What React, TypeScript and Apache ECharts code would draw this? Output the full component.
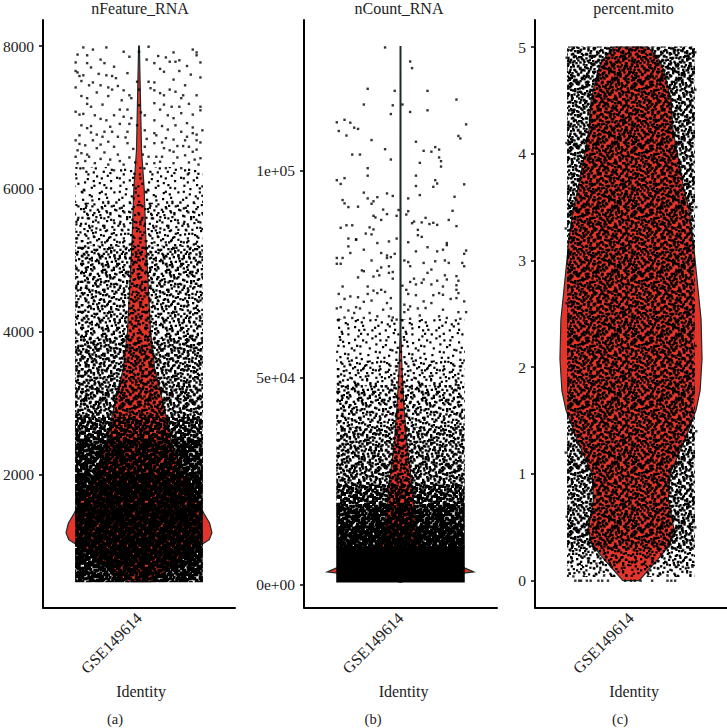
import React, { useEffect, useRef } from "react";
import * as echarts from "echarts";

const FONT = "Liberation Serif";
const categories = ["GSE149614"];
const panelTitles = ["nFeature_RNA", "nCount_RNA", "percent.mito"];
const captions = ["(a)", "(b)", "(c)"];

// Violin profiles: [value, half width as % of the panel width]
const violinA = [[8000,0.2],[6545,1.3],[6000,2.7],[5287,3.6],[4448,5.2],[4000,6],[3469,8.3],[3049,12.2],[2490,16.6],[2000,23],[1650,30],[1450,34],[1320,36.8],[1189,38],[1090,36.6],[1020,32.5],[950,27.5],[811,22],[671,15.5],[503,6]];
const violinB = [[130000,0.2],[60000,0.25],[51800,0.8],[44500,1.6],[34900,3.1],[27600,5],[15500,8],[8300,11],[5900,16],[4400,31],[3000,38],[2000,20],[1000,3],[550,0.5]];
const violinC = [[5,8.9],[4.88,14.6],[4.78,17.2],[4.5,20.8],[4.22,21.9],[3.95,24.7],[3.67,27.6],[3.48,30.2],[3.2,32.3],[2.82,34.4],[2.45,36.5],[2.08,37],[1.78,36],[1.6,33.9],[1.32,28.1],[1,20.3],[0.76,19.5],[0.48,22.4],[0.34,20.3],[0.2,14],[0,4.2]];

// Overplotted regions: [low value, high value, density level 1-9]
const bandsA = [[500,700,7],[700,2000,8],[2000,2500,7],[2500,2800,6],[2800,3200,5],[3200,3900,4],[3900,5200,3],[5200,5800,2],[5800,6300,1]];
const bandsB = [[560,9000,9],[9000,14000,8],[14000,19000,7],[19000,24000,6],[24000,29000,5],[29000,38000,4],[38000,48000,3],[48000,54000,2],[54000,64000,1]];
const bandsC = [[0.04,0.14,2],[0.14,0.3,3],[0.3,5,5]];

// Individually readable points: [jitter as % of the panel width, value]
const pointsA = [[-29,7980],[-24,7950],[-17,7980],[-32,7880],[-27,7870],[-20,7810],[-8,7920],[-5,7850],[5,7990],[0,7920],[18,7910],[28,7950],[30,7910],[30,7870],[4,7810],[8,7760],[14,7840],[16,7780],[19,7780],[21,7800],[32,7770],[-33,7770],[-27,7760],[-25,7700],[-13,7710],[-33,7650],[-32,7630],[-31,7580],[-29,7590],[-21,7610],[-17,7590],[-14,7580],[-12,7550],[11,7680],[13,7640],[21,7650],[18,7530],[32,7560],[-30,7510],[-26,7450],[-33,7420],[-20,7450],[-16,7420],[-11,7440],[-14,7390],[-22,7350],[5,7500],[8,7490],[0,7390],[-1,7500],[6,7410],[8,7380],[11,7340],[13,7310],[16,7390],[24,7450],[30,7310],[23,7310],[22,7270],[-27,7270],[-16,7300],[0,7170],[-9,7240],[-5,7310],[-4,7270],[8,7200],[17,7150],[21,7150],[32,7150],[32,7100],[-33,7080],[-31,7040],[-27,7190],[-25,7150],[-6,7110],[-10,7110],[1,7070],[3,7030],[15,7030],[22,7060],[-23,7030],[-20,6980],[-17,6960],[-8,7010],[-4,6990],[8,6960],[18,6990],[19,6890],[25,6920],[-30,6890],[-10,6910],[-5,6910],[-1,6890],[28,6860],[33,6820],[-27,6850],[-25,6790],[-31,6750],[-18,6800],[-14,6800],[-6,6800],[3,6820],[8,6780],[15,6830],[22,6800],[28,6780],[-33,6680],[-31,6630],[-24,6680],[-19,6730],[-16,6660],[-11,6730],[9,6750],[14,6710],[18,6690],[24,6680],[30,6680],[-30,6500],[-22,6570],[-26,6450],[-15,6410],[8,6640],[12,6650],[20,6600],[23,6600],[32,6650],[5,6450],[9,6450],[16,6540],[28,6520],[32,6430],[-32,6360],[-29,6290],[-23,6360],[-13,6260],[-8,6340],[8,6360],[14,6290],[22,6290],[26,6220],[31,6340],
  [-28,6610],[-20,6620],[-13,6590],[-6,6640],[-3,6560],[3,6590],[13,6570],[18,6520],[26,6590],[30,6550],[-32,6540],[-27,6480],[-18,6510],[-11,6480],[-5,6440],[2,6480],[12,6450],[20,6440],[24,6470],[29,6410],[-33,6450],[-28,6390],[-20,6420],[-16,6340],[-10,6390],[-2,6370],[4,6350],[11,6380],[18,6360],[26,6370],[-25,6880],[-15,6870],[12,6880],[30,6760],[-22,6760],[-7,6720],[4,6700],[25,6730],[-29,7050],[-13,7030],[11,7110],[28,7040],[-19,7180],[26,7190],[13,7180],[-30,7300],[-8,7380],[19,7360],[-24,7490],[27,7600],[-6,7620],[25,7720],[-18,7760],[10,7860]];
const pointsB = [[-8,129800],[5,126400],[6,124800],[-17,119800],[-3,119300],[14,119300],[29,117200],[-19,116000],[-4,115800],[1,116000],[5,114200],[14,114600],[-5,113700],[-33,111700],[-29,112300],[-26,111600],[-24,110400],[-22,110100],[-32,109600],[-28,108500],[34,111200],[30,108400],[31,107800],[-15,107400],[8,107000],[-8,105200],[12,104800],[16,104600],[18,105700],[20,105100],[-25,103900],[-21,103900],[20,103200],[21,102300],[-5,102700],[10,101900],[21,101000],[-17,100600],[-17,98800],[8,98800],[-33,97700],[-31,96800],[-29,98200],[18,97700],[19,96900],[17,96100],[33,96700],[8,96300],[-19,94700],[-17,93300],[-12,93600],[-7,94500],[-4,93900],[10,94100],[4,93300],[28,93700],[-30,92900],[-29,92100],[-27,91200],[-22,91300],[-14,92600],[-15,92000],[-9,90600],[-1,90500],[4,90200],[3,89400],[-7,89500],[-2,89100],[-14,89100],[-13,88700],[27,90300],[-10,88100],[25,88100],[13,88600],[7,87700],[6,87300],[11,87500],[15,87100],[17,87400],[19,86900],[29,86600],[-31,86200],[-28,86800],[-25,86800],[-16,86300],[-14,85800],[-18,84800],[-15,84600],[9,85700],[9,84400],[11,84000],[-27,83600],[-23,83400],[-2,83600],[-27,81700],[-23,83300],[-12,82500],[-6,82900],[4,82700],[14,81500],[24,82500],[24,82000],[-19,80900],[-26,80100],[8,80500],[19,80500],[22,80900],[34,80700],[33,79900],[-33,78900],[-30,78900],[-15,78300],[-10,80100],[-7,79500],[-7,78900],[-3,79900],[-5,79100],[2,78300],[4,77900],[12,77700],[18,78100],[23,78300],[25,77700],[32,77700],[-33,77500],[-31,77500],[5,76900],[33,76900],[-10,76600],[-20,75900],[-19,75700],[-12,75800],[-6,76900],[-6,75300],[-4,75500],[14,75300],[16,76100],[-22,74200],[-14,74400],[-11,74700],[-4,73900],[7,73900],[12,73700],[23,74700],[24,73700],[29,74500],[30,73400],[19,73400],[5,73100],[8,72500],[11,72900],[16,72500],[-30,72000],[-17,72000],[1,72200],[-14,71000],[-10,71200],[-8,70700],[3,71200],[22,72000],[29,72300],[29,71200],[-32,70200],[-17,70200],[-12,70400],[4,70200],[8,69900],[20,70400],[22,70000],[30,70400],[-26,69600],[-29,69000],[-22,69400],[-19,68300],[-15,68600],[-5,69200],[17,69900],[26,69000],[29,69200],[33,68400],[-7,68000],[2,67600],[5,67200],[12,68400],[16,68000],[-33,66700],[-31,67000],[-23,67000],[-27,66200],[-21,66700],[-9,66400],[-5,66700],[9,66700],[13,66800],[4,66400],[22,66400],[30,65800],[34,65800],[-24,65600],[-16,65600],[-12,64800],[-6,64800],[2,65800],[-29,64500],[-25,64400],[-19,64400],[-4,64500],[5,64200],[10,65000],[20,64800],[24,64400],[31,64200],[-32,64000],[-2,64000]];
const pointsC = [[-29,0],[-27,0],[-26,0],[-23,0],[-21,0],[-17,0],[-15,0],[-12,0],[-3,0],[0,0],[2,0],[5,0],[11,0],[19,0],[21,0],[23,0],[-32,0.07],[-30,0.04],[-27,0.08],[31,0.08],[32,0.13],[27,0.13],[24,0.13],[19,0.05],[15,0.07],[-14,0.05],[-16,0.1],[-18,0.16],[-33.5,2.6],[-34,3.3],[-33.6,4.1],[-34,1.2],[-33.5,0.6],[33.5,4.6],[34,3.5],[33.6,2.2],[34,1.4],[33.5,0.5],[-33.5,4.9],[33.5,4.95]];

const yTicksA = [2000, 4000, 6000, 8000];
const yTicksB = [0, 50000, 100000];
const yTickLabelsB = ["0e+00", "5e+04", "1e+05"];
const yTicksC = [0, 1, 2, 3, 4, 5];

// Hand-typed speckle matrix: a cell is dark when its digit is at or below the band's density level
const SPECKLE = [
  "73918264519372846152973841625937","28465193762815493726184953726418","91537284639471528364917253846195","46182957314826975143628597314862",
  "85379146287593164728351946285739","12648539761284357961482635197346","97351826495163729853174928635184","36284971352847196425836157492563",
  "58197346218593642871359642718935","24763589471632958146723895164273","81956237845179326594817263958416","69324178596284173826495137624598",
  "15847962313759482617382964851372","73296415886124937589164273596841","48513729647395218436927518342967","92681354172846563195748362915483",
  "37459816295317849672135984726159","64172938546928135748296413857326","19845267381654972316859742361895","83562719437281546983124675948237",
  "26937485169473218657493128567914","51748392682195764321876549231786","97213654873546129875362194786345","34689127554819376249518732694158",
  "78145936226937851463927685143629","42596813774182693518246379518274","15387264998463157392675148236957","69824571331729486157983426759183",
  "83176945226584913746132859471625","27459138667391825984716243985376","94612387515248739263859176342891","56398724181936547218473952618437",
];
// Dot size in the tile for each density level (index 0 unused): overplotted marks merge into blobs
const DOT_SIZES = [0, 2.2, 2.2, 2.3, 2.4, 2.35, 2.7, 3.0, 3.35];

function speckleTile(level: number) {
  const canvas = document.createElement("canvas");
  canvas.width = 64;
  canvas.height = 64;
  const ctx = canvas.getContext("2d")!;
  ctx.fillStyle = "#000";
  if (level >= 9) {
    ctx.fillRect(0, 0, 64, 64);
  } else {
    const dot = DOT_SIZES[level];
    SPECKLE.forEach((row, r) => {
      const below = SPECKLE[(r + 1) % SPECKLE.length];
      row.split("").forEach((d, c) => {
        if (Number(d) > level) return;
        // the neighbouring digits nudge each dot off the grid so the speckle does not look like a lattice
        const dx = ((Number(row[(c + 1) % row.length]) % 3) - 1) * 0.7;
        const dy = ((Number(below[c]) % 3) - 1) * 0.7;
        // wrap across the tile's edges so the repeat leaves no seams
        [-64, 0, 64].forEach((ox) => {
          [-64, 0, 64].forEach((oy) => {
            ctx.fillRect(c * 2 + dx + ox, r * 2 + dy + oy, dot, dot);
          });
        });
      });
    });
  }
  return { image: canvas, repeat: "repeat", imageWidth: 64, imageHeight: 64 };
}

const panels = [
  { left: 42, right: 235, min: 141, max: 8364, ticks: yTicksA, labels: null as string[] | null, violin: violinA, bands: bandsA, points: pointsA, titleX: 140, nameShift: 4, captionX: 115 },
  { left: 304, right: 497, min: -5609, max: 136436, ticks: yTicksB, labels: yTickLabelsB, violin: violinB, bands: bandsB, points: pointsB, titleX: 399, nameShift: 6, captionX: 373 },
  { left: 535, right: 727, min: -0.251, max: 5.253, ticks: yTicksC, labels: null as string[] | null, violin: violinC, bands: bandsC, points: pointsC, titleX: 633.5, nameShift: 6, captionX: 620 },
];

const TOP = 20;
const BOTTOM = 607.5;
const JITTER_EDGE = 33.3;

export default function App() {
  const ref = useRef<HTMLDivElement>(null);
  useEffect(() => {
    const chart = echarts.init(ref.current!, undefined, { renderer: "svg" });
    const tiles: Record<number, any> = {};
    for (let l = 1; l <= 9; l++) tiles[l] = speckleTile(l);

    const grid: any[] = [];
    const xAxis: any[] = [];
    const yAxis: any[] = [];
    const series: any[] = [];
    const title: any[] = [];
    const graphic: any[] = [];

    panels.forEach((p, i) => {
      grid.push({ left: p.left, width: p.right - p.left, top: TOP, height: BOTTOM - TOP, containLabel: false });
      xAxis.push({
        type: "category", gridIndex: i, data: categories,
        axisLine: { onZero: false, lineStyle: { color: "#000", width: 2 } },
        axisTick: { alignWithLabel: true, length: 4, lineStyle: { color: "#000", width: 1.5 } },
        axisLabel: { rotate: 45, margin: 8, fontFamily: FONT, fontSize: 16, color: "#222" },
        name: "Identity", nameLocation: "middle", nameGap: 70,
        nameTextStyle: { fontFamily: FONT, fontSize: 16, color: "#222", padding: [0, 0, 0, p.nameShift] },
      });
      xAxis.push({ type: "value", gridIndex: i, min: -50, max: 50, show: false });
      yAxis.push({
        type: "value", gridIndex: i, min: p.min, max: p.max,
        splitLine: { show: false },
        axisLine: { show: true, onZero: false, lineStyle: { color: "#000", width: 2 } },
        axisTick: { show: true, length: 4, lineStyle: { color: "#000", width: 1.5 }, customValues: p.ticks },
        axisLabel: {
          margin: 9, fontFamily: FONT, fontSize: 15.5, color: "#222", customValues: p.ticks,
          formatter: (v: number) => (p.labels ? p.labels[p.ticks.indexOf(v)] : String(v)),
        },
      });
      const xIdx = i * 2 + 1;
      series.push({
        type: "custom", xAxisIndex: xIdx, yAxisIndex: i, z: 1, silent: true,
        data: [[0, p.violin[0][0]]],
        renderItem: (_: any, api: any) => {
          const right = p.violin.map(([v, w]) => api.coord([w, v]));
          const left = p.violin.map(([v, w]) => api.coord([-w, v])).reverse();
          return {
            type: "polygon",
            shape: { points: right.concat(left) },
            style: { fill: "#E5352A", stroke: "#1b2a2a", lineWidth: 1.2 },
          };
        },
      });
      series.push({
        type: "custom", xAxisIndex: xIdx, yAxisIndex: i, z: 2, silent: true,
        data: p.bands.map(([low, high, level]) => [low, high, level]),
        encode: { y: [0, 1] },
        renderItem: (_: any, api: any) => {
          const a = api.coord([-JITTER_EDGE, api.value(1)]);
          const b = api.coord([JITTER_EDGE, api.value(0)]);
          return {
            type: "rect",
            shape: { x: a[0], y: a[1] - 0.5, width: b[0] - a[0], height: b[1] - a[1] + 1 },
            style: { fill: tiles[api.value(2)] },
          };
        },
      });
      series.push({
        type: "scatter", xAxisIndex: xIdx, yAxisIndex: i, z: 3, silent: true,
        symbol: "rect", symbolSize: 2.4,
        itemStyle: { color: "#000" },
        data: p.points,
      });
      title.push({
        text: panelTitles[i], left: p.titleX, top: 0, padding: 0, textAlign: "center",
        textStyle: { fontFamily: FONT, fontSize: 16, fontWeight: "normal", color: "#222" },
      });
      graphic.push({
        type: "text", x: p.captionX, y: 719,
        style: { text: captions[i], font: `14.5px "${FONT}"`, fill: "#222", textAlign: "center", textVerticalAlign: "middle" },
      });
    });

    chart.setOption({ animation: false, backgroundColor: "#fff", title, grid, xAxis, yAxis, series, graphic });
    return () => chart.dispose();
  }, []);
  return <div ref={ref} style={{ position: "absolute", left: 0, top: 0, width: 727, height: 728 }} />;
}
